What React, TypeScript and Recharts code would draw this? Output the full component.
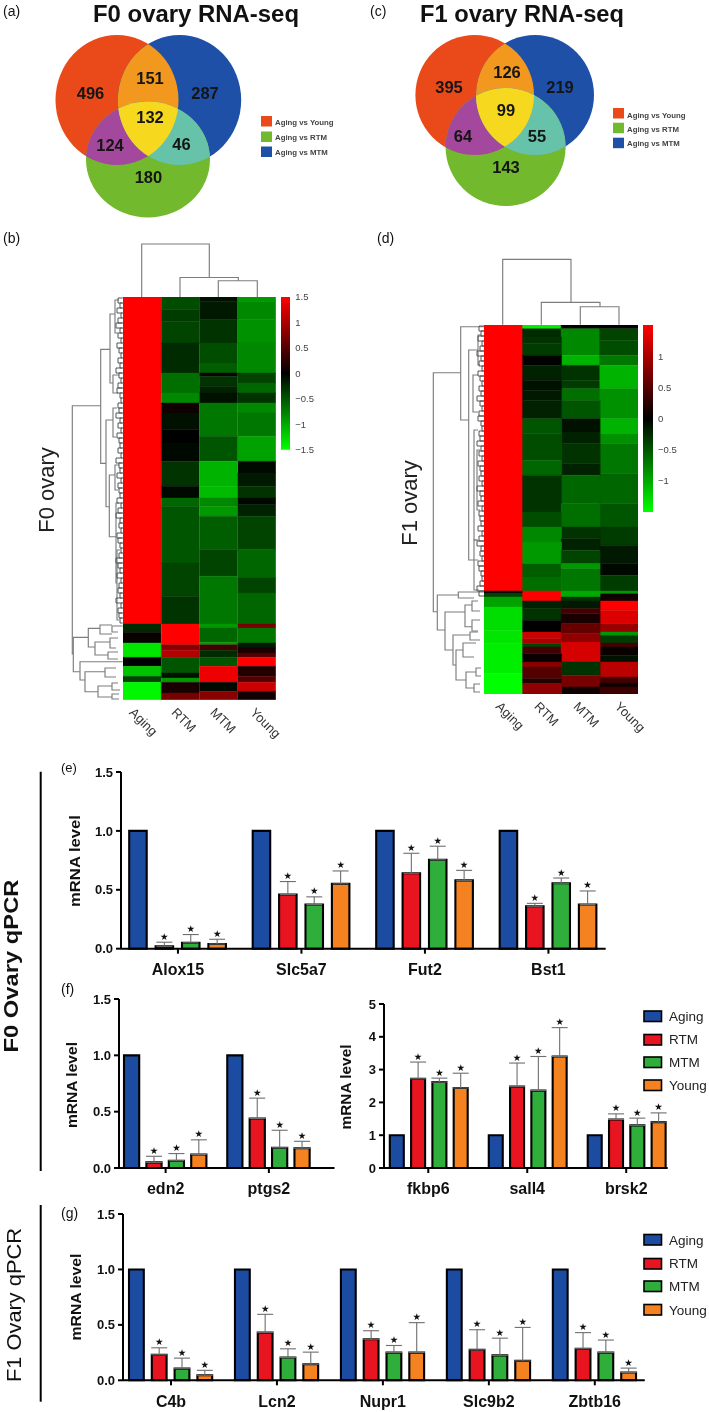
import React from 'react';
import { BarChart, Bar, XAxis, YAxis, ErrorBar, LabelList, Cell, ScatterChart, Scatter } from 'recharts';

const FONT = '"Liberation Sans", Arial, sans-serif';
const groupNames = ['Aging', 'RTM', 'MTM', 'Young'];
const groupColors = ['#1C4CA2', '#E8141F', '#2FAE3C', '#F58220'];

// ---------- Venn ----------
const vennNames = ['Aging vs Young', 'Aging vs RTM', 'Aging vs MTM'];
const vennFills = { red: '#EA4A1A', green: '#73B92E', blue: '#1E50A8', orange: '#F2981E', purple: '#A3489C', teal: '#66C2A8', yellow: '#F6D91F' };
const f0Sets = { red: { x: 117, y: 100, rx: 61.5, ry: 65 }, blue: { x: 179.5, y: 100, rx: 61.7, ry: 65 }, green: { x: 148, y: 159.5, rx: 62, ry: 58 } };
const f1Sets = { red: { x: 474.7, y: 95, rx: 59.3, ry: 60 }, blue: { x: 535, y: 95, rx: 59, ry: 60 }, green: { x: 505.6, y: 147, rx: 60, ry: 59 } };
const f0Counts = [
  { label: '496', x: 90.5, y: 93 }, { label: '151', x: 150, y: 78 }, { label: '287', x: 205, y: 93 },
  { label: '132', x: 150, y: 117 }, { label: '124', x: 110, y: 145 }, { label: '46', x: 181.4, y: 144 }, { label: '180', x: 148.4, y: 177 },
];
const f1Counts = [
  { label: '395', x: 449, y: 87 }, { label: '126', x: 507, y: 72 }, { label: '219', x: 560, y: 87 },
  { label: '99', x: 506, y: 110 }, { label: '64', x: 463, y: 136 }, { label: '55', x: 537, y: 136 }, { label: '143', x: 506, y: 167 },
];

// ---------- Heatmap bands: [row where the band ends, z score] ----------
const f0Aging = [[1183, 1.5], [1208, -0.25], [1240, 0.05], [1283, -1.35], [1310, 0], [1340, -1.15], [1358, -0.4], [1410, -1.45]];
const f0Rtm = [[240, -0.45], [275, -0.35], [340, -0.4], [430, -0.25], [490, -0.65], [520, -0.8], [550, 0.1], [600, -0.1], [640, 0], [695, -0.05], [770, -0.3], [805, -0.05], [830, -0.6], [1000, -0.5], [1100, -0.4], [1183, -0.3], [1245, 1.5], [1262, 0.8], [1283, 1.05], [1330, -0.5], [1345, -0.1], [1358, -0.9], [1390, 0.15], [1410, 0.7]];
const f0Mtm = [[215, -0.1], [270, -0.15], [340, -0.3], [400, -0.45], [430, -0.55], [440, 0.1], [470, -0.3], [490, -0.2], [520, -0.1], [620, -0.7], [695, -0.5], [770, -1.05], [805, -1.1], [830, -0.8], [860, -0.9], [960, -0.55], [1040, -0.4], [1183, -0.7], [1195, -0.9], [1238, -0.6], [1245, -0.9], [1262, 0.4], [1283, -0.25], [1310, -0.5], [1358, 1.4], [1385, -0.05], [1410, 0.8]];
const f0Young = [[215, -0.9], [270, -0.8], [340, -0.85], [430, -0.8], [460, -0.4], [490, -0.6], [520, -0.3], [550, -0.8], [620, -0.7], [695, -0.95], [730, -0.05], [770, -0.15], [805, -0.3], [825, -0.05], [860, -0.2], [960, -0.4], [1045, -0.6], [1090, -0.4], [1183, -0.6], [1195, 0.7], [1240, -0.7], [1255, -0.15], [1270, 0.15], [1283, 0.5], [1310, 1.5], [1340, 0.2], [1358, 0.5], [1385, 1.2], [1410, 0.1]];
const f1Aging = [[1082, 1.5], [1090, 0], [1100, -0.4], [1130, -0.95], [1200, -1.3], [1240, -1.35], [1330, -1.4], [1392, -1.5]];
const f1Rtm = [[295, -1.4], [320, -0.25], [340, -0.3], [375, -0.35], [405, -0.02], [450, -0.2], [480, -0.1], [510, -0.15], [565, -0.2], [610, -0.5], [690, -0.45], [735, -0.6], [845, -0.3], [890, -0.45], [935, -0.8], [1000, -0.9], [1040, -0.55], [1082, -0.65], [1112, 1.5], [1135, -0.2], [1170, -0.3], [1205, 0], [1225, 1.2], [1240, 1], [1250, -0.4], [1270, 0.4], [1295, 0.05], [1310, 0.8], [1345, 0.5], [1360, 0.2], [1392, 0.85]];
const f1Mtm = [[295, 0], [375, -0.8], [405, -1.05], [450, -0.3], [475, -0.35], [510, -0.65], [565, -0.5], [605, -0.1], [640, -0.2], [700, -0.3], [735, -0.2], [820, -0.6], [890, -0.65], [925, -0.3], [960, -0.2], [1000, -0.4], [1015, -0.9], [1082, -0.7], [1100, -1.0], [1112, -0.3], [1135, -0.15], [1150, 0.4], [1180, 0.15], [1210, 0.6], [1235, 0.85], [1295, 1.25], [1335, -0.3], [1370, 0.7], [1392, 0.1]];
const f1Young = [[295, 0], [330, -0.4], [375, -0.45], [405, -0.7], [475, -1.05], [565, -0.85], [610, -1.05], [640, -0.85], [730, -0.7], [820, -0.6], [890, -0.5], [945, -0.35], [1000, -0.15], [1035, -0.05], [1082, -0.35], [1090, -0.9], [1112, 0.1], [1140, 1.5], [1180, 1.3], [1205, 0.9], [1215, -0.9], [1238, -0.35], [1250, 0.4], [1275, 0.05], [1295, -0.1], [1340, 1.1], [1358, 0.4], [1370, 0.1], [1392, 0.35]];
const scaleF0Ticks = [1.5, 1, 0.5, 0, -0.5, -1, -1.5];
const scaleF1Ticks = [1, 0.5, 0, -0.5, -1];

// ---------- Dendrograms: [merge height, branch a, branch b, child a, child b] ----------
const f0TopLinks = [[244, 141.7, 209.3, 297, 277.5], [277.5, 180, 238.3, 297, 280.7], [280.7, 218.3, 257.3, 297, 297]];
const f1TopLinks = [[259.3, 502.7, 571, 324.7, 302.3], [302.3, 541.3, 600, 324.7, 306.7], [306.7, 580.3, 619, 324.7, 324.7]];
const f0LeftLinks = [
  [72.3, 405.7, 654, 100.7, 73.3], [73.3, 637.3, 671.7, 88.3, 80], [100.7, 349.3, 463.3, 110, 106],
  [110, 314, 383, 115, 113], [115, 300, 333, 119, 118], [113, 375, 393, 119, 118],
  [106, 420, 506.7, 113, 109.3], [113, 408, 437, 117, 116], [109.3, 475, 536.7, 115, 116],
  [115, 465, 490, 119, 118], [116, 503, 583, 119, 117], [117, 550, 620, 120, 119],
  [88.3, 628.3, 647, 100, 95], [100, 625, 634, 112, 112], [112, 626, 632, 122.7, 118], [95, 642, 655, 110, 108],
  [110, 638, 648, 118, 116], [108, 652, 659, 118, 118], [80, 661.7, 680, 122.7, 85], [85, 671.7, 691.7, 105, 98],
  [105, 668, 677, 116, 116], [98, 686, 697, 112, 112], [112, 683, 690, 118, 120], [112, 694, 699, 119, 119],
];
const f0CombDepth = [118, 120, 117, 121, 118, 116, 120, 118, 121, 117, 119, 121, 118, 120, 116, 119, 121, 118, 117, 120, 121, 118, 119, 116, 120, 118, 121, 117, 119, 120, 118, 121, 116, 119, 120, 117, 121, 118, 119, 120, 117, 121, 118, 116, 120, 119, 121, 117, 118, 120, 121, 119, 116, 118, 120, 117, 121, 119, 118, 120, 116, 121, 118, 119, 120];
const f1LeftLinks = [
  [433.3, 372.7, 611.7, 460.7, 437.3], [460.7, 326.7, 420, 484, 468.7], [468.7, 350, 560, 478, 478],
  [478, 335, 365, 481, 480], [473, 375, 412, 478, 478], [474, 430, 540, 478, 477], [477, 450, 510, 480, 480],
  [474, 540, 590, 478, 479], [437.3, 595, 630, 458.3, 445], [458.3, 592, 598, 484, 474],
  [445, 612, 650, 465, 453], [465, 605, 626.7, 472, 472], [472, 601, 611, 478, 480], [472, 620, 631, 480, 478],
  [453, 635, 665, 470, 456], [470, 632, 640, 478, 480], [456, 650, 680, 463, 466], [463, 643, 657, 476, 474],
  [466, 672, 688, 476, 474], [476, 668, 676, 481, 481], [474, 684, 692, 480, 480],
];
const f1CombDepth = [479, 481, 478, 482, 480, 477, 481, 479, 482, 478, 480, 482, 479, 481, 477, 480, 482, 479, 478, 481, 482, 479, 480, 477, 481, 479, 482, 478, 480, 481, 479, 482, 477, 480, 481, 478, 482, 479, 480, 481, 478, 482, 479, 477, 481, 480, 482, 478, 479, 481, 482, 480, 477, 479];

// ---------- qPCR bars ----------
const eCats = ['Alox15', 'Slc5a7', 'Fut2', 'Bst1'];
const eAging = [1, 1, 1, 1];
const eRtm = [0.02, 0.46, 0.64, 0.36];
const eMtm = [0.05, 0.375, 0.755, 0.555];
const eYoung = [0.04, 0.55, 0.58, 0.375];
const eRtmTop = [0.055, 0.57, 0.81, 0.385];
const eMtmTop = [0.12, 0.44, 0.87, 0.6];
const eYoungTop = [0.08, 0.66, 0.665, 0.49];

const fCats = ['edn2', 'ptgs2'];
const fAging = [1, 1];
const fRtm = [0.05, 0.44];
const fMtm = [0.065, 0.18];
const fYoung = [0.12, 0.175];
const fRtmTop = [0.104, 0.62];
const fMtmTop = [0.128, 0.335];
const fYoungTop = [0.25, 0.237];

const f2Cats = ['fkbp6', 'sall4', 'brsk2'];
const f2Aging = [1, 1, 1];
const f2Rtm = [2.72, 2.48, 1.48];
const f2Mtm = [2.62, 2.36, 1.3];
const f2Young = [2.44, 3.4, 1.4];
const f2RtmTop = [3.23, 3.2, 1.65];
const f2MtmTop = [2.74, 3.4, 1.52];
const f2YoungTop = [2.89, 4.28, 1.68];

const gCats = ['C4b', 'Lcn2', 'Nupr1', 'Slc9b2', 'Zbtb16'];
const gAging = [1, 1, 1, 1, 1];
const gRtm = [0.23, 0.43, 0.37, 0.275, 0.285];
const gMtm = [0.105, 0.205, 0.25, 0.225, 0.25];
const gYoung = [0.045, 0.145, 0.25, 0.175, 0.07];
const gRtmTop = [0.293, 0.595, 0.447, 0.456, 0.43];
const gMtmTop = [0.2, 0.284, 0.314, 0.38, 0.363];
const gYoungTop = [0.09, 0.254, 0.52, 0.477, 0.11];

const ratioTicks = [0, 0.5, 1, 1.5];
const foldTicks = [0, 1, 2, 3, 4, 5];

// ---------- helpers ----------
function zColor(z: number) {
  const v = Math.round(255 * Math.min(1, Math.abs(z) / 1.5));
  return z >= 0 ? `rgb(${v},0,0)` : `rgb(0,${v},0)`;
}

function T({ x, y, children, size = 12, weight = 400, anchor = 'start', rotate = 0, fill = '#111', len, family = FONT }: any) {
  return (
    <text x={x} y={y} fontSize={size} fontWeight={weight} textAnchor={anchor} fill={fill} fontFamily={family}
      dominantBaseline="central" textLength={len} lengthAdjust={len ? 'spacingAndGlyphs' : undefined}
      transform={rotate ? `rotate(${rotate} ${x} ${y})` : undefined}>{children}</text>
  );
}

const VennEllipse = (props: any) => {
  const { cx, cy, payload } = props;
  return <ellipse cx={cx} cy={cy} rx={payload.rx} ry={payload.ry} fill={payload.fill} />;
};

const VennOverlap = (props: any) => {
  const { cx, cy, payload } = props;
  const { id, rx, ry, fill, clips } = payload;
  let parent: string | undefined;
  const defs = clips.map((c: any, i: number) => {
    const cid = `${id}-${i}`;
    const node = (
      <clipPath id={cid} key={cid} clipPath={parent ? `url(#${parent})` : undefined}>
        <ellipse cx={c.x} cy={c.y} rx={c.rx} ry={c.ry} />
      </clipPath>
    );
    parent = cid;
    return node;
  });
  return (
    <g>
      <defs>{defs}</defs>
      <ellipse cx={cx} cy={cy} rx={rx} ry={ry} fill={fill} clipPath={`url(#${parent})`} />
    </g>
  );
};

const VennCount = (props: any) => (
  <text x={props.cx} y={props.cy} textAnchor="middle" dominantBaseline="central" fontSize={16.5} fontWeight={700} fontFamily={FONT} fill="#151515">
    {props.payload.label}
  </text>
);

function VennScatter({ sets, counts, prefix }: any) {
  const base = [
    { ...sets.red, fill: vennFills.red },
    { ...sets.blue, fill: vennFills.blue },
    { ...sets.green, fill: vennFills.green },
  ];
  const overlaps = [
    { id: `${prefix}o`, ...sets.red, fill: vennFills.orange, clips: [sets.blue] },
    { id: `${prefix}p`, ...sets.red, fill: vennFills.purple, clips: [sets.green] },
    { id: `${prefix}t`, ...sets.blue, fill: vennFills.teal, clips: [sets.green] },
    { id: `${prefix}y`, ...sets.red, fill: vennFills.yellow, clips: [sets.blue, sets.green] },
  ];
  return [
    <Scatter key={`${prefix}a`} data={base} dataKey="y" shape={VennEllipse} isAnimationActive={false} />,
    <Scatter key={`${prefix}b`} data={overlaps} dataKey="y" shape={VennOverlap} isAnimationActive={false} />,
    <Scatter key={`${prefix}c`} data={counts} dataKey="y" shape={VennCount} isAnimationActive={false} />,
  ];
}

function heatData(cols: number[][][], start: number) {
  const rows = groupNames.map((name, ci) => {
    const row: any = { name };
    let prev = start;
    cols[ci].forEach(([end], i) => { row[`s${i}`] = end - prev; prev = end; });
    return row;
  });
  return rows;
}

function Heatmap({ left, top, width, height, cols, start, end }: any) {
  const data = heatData(cols, start);
  const layers = Math.max(...cols.map((c: any) => c.length));
  return (
    <div style={{ position: 'absolute', left, top }}>
      <BarChart width={width} height={height} data={data} margin={{ top: 0, right: 0, bottom: 0, left: 0 }} barCategoryGap={0} stackOffset="none">
        <XAxis dataKey="name" hide />
        <YAxis hide reversed type="number" domain={[0, end - start]} />
        {Array.from({ length: layers }, (_, i) => (
          <Bar key={i} dataKey={`s${i}`} stackId="h" isAnimationActive={false}>
            {groupNames.map((n, ci) => {
              const color = cols[ci][i] ? zColor(cols[ci][i][1]) : 'none';
              return <Cell key={n} fill={color} stroke={color} strokeWidth={0.4} />;
            })}
          </Bar>
        ))}
      </BarChart>
    </div>
  );
}

function ColorScale({ left, top, barW, height, ticks, id }: any) {
  const pad = 8;
  return (
    <div style={{ position: 'absolute', left, top: top - pad }}>
      <BarChart width={barW + 40} height={height + 2 * pad} data={[{ name: 'z', span: [-1.5, 1.5] }]} margin={{ top: pad, right: 0, bottom: pad, left: 0 }} barCategoryGap={0}>
        <defs>
          <linearGradient id={id} x1="0" y1="0" x2="0" y2="1">
            <stop offset="0%" stopColor="#FF0000" />
            <stop offset="50%" stopColor="#000000" />
            <stop offset="100%" stopColor="#00FF00" />
          </linearGradient>
        </defs>
        <XAxis dataKey="name" hide />
        <YAxis orientation="right" width={40} type="number" domain={[-1.5, 1.5]} ticks={ticks} axisLine={false} tickLine={false} tickSize={0} tickMargin={5} interval={0}
          tickFormatter={(v: number) => (v < 0 ? `\u2212${Math.abs(v)}` : `${v}`)}
          tick={{ fontSize: 9.5, fill: '#444', fontFamily: FONT, textAnchor: 'start' }} />
        <Bar dataKey="span" fill={`url(#${id})`} isAnimationActive={false} />
      </BarChart>
    </div>
  );
}

function linkPoints(l: number[], horizontal: boolean) {
  const [h, a, b, ca, cb] = l;
  return horizontal
    ? [{ x: ca, y: a }, { x: h, y: a }, { x: h, y: b }, { x: cb, y: b }]
    : [{ x: a, y: ca }, { x: a, y: h }, { x: b, y: h }, { x: b, y: cb }];
}

function combLinks(depths: number[], startY: number, step: number, leaf: number) {
  return depths.map((d, i) => [d, startY + i * step, startY + (i + 1) * step, leaf, leaf]);
}

const noPoint = () => null;

function Dendrograms() {
  const main: any[] = [
    ...f0TopLinks.map((l) => linkPoints(l, false)),
    ...f1TopLinks.map((l) => linkPoints(l, false)),
    ...f0LeftLinks.map((l) => linkPoints(l, true)),
    ...f1LeftLinks.map((l) => linkPoints(l, true)),
  ];
  const comb: any[] = [
    ...combLinks(f0CombDepth, 298, 5, 122.7).map((l) => linkPoints(l, true)),
    ...combLinks(f1CombDepth, 326, 5, 484).map((l) => linkPoints(l, true)),
  ];
  return (
    <div style={{ position: 'absolute', left: 0, top: 0 }}>
      <ScatterChart width={709} height={770} margin={{ top: 0, right: 0, bottom: 0, left: 0 }}>
        <XAxis type="number" dataKey="x" domain={[0, 709]} hide />
        <YAxis type="number" dataKey="y" domain={[0, 770]} reversed hide />
        {main.map((pts, i) => (
          <Scatter key={i} data={pts} shape={noPoint} line={{ stroke: '#7d7d7d', strokeWidth: 1.15 }} isAnimationActive={false} />
        ))}
        {comb.map((pts, i) => (
          <Scatter key={`c${i}`} data={pts} shape={noPoint} line={{ stroke: '#555', strokeWidth: 1 }} isAnimationActive={false} />
        ))}
      </ScatterChart>
    </div>
  );
}

function starLabel(vals: number[], tops: number[]) {
  return (p: any) => {
    const { x, y, width, height, index } = p;
    const err = tops[index] - vals[index];
    const ppu = height / vals[index];
    return (
      <text x={x + width / 2} y={y - err * ppu - 6} textAnchor="middle" dominantBaseline="central" fontSize={9.5} fontFamily="DejaVu Sans" fill="#111">★</text>
    );
  };
}

function Qpcr({ axisX, yTop, yZero, right, cats, aging, rtm, mtm, young, rtmTop, mtmTop, youngTop, domainMax, ticks, barW, step, padL, padR, tickFmt, labelSize = 16 }: any) {
  const yW = 40;
  const mt = 10;
  const xH = 34;
  const data = cats.map((name: string, i: number) => ({
    name, aging: aging[i], rtm: rtm[i], mtm: mtm[i], young: young[i],
    rtmE: [0, rtmTop[i] - rtm[i]], mtmE: [0, mtmTop[i] - mtm[i]], youngE: [0, youngTop[i] - young[i]],
  }));
  const keys = [
    ['aging', null, null, null],
    ['rtm', 'rtmE', rtm, rtmTop],
    ['mtm', 'mtmE', mtm, mtmTop],
    ['young', 'youngE', young, youngTop],
  ] as any[];
  return (
    <div style={{ position: 'absolute', left: axisX - yW, top: yTop - mt }}>
      <BarChart width={yW + right - axisX + 4} height={mt + yZero - yTop + xH} data={data} barSize={barW} barGap={step - barW}
        margin={{ top: mt, right: 4, bottom: 0, left: 0 }}>
        <XAxis dataKey="name" height={xH} interval={0} padding={{ left: padL, right: padR }}
          axisLine={{ stroke: '#000', strokeWidth: 2 }} tickLine={{ stroke: '#000', strokeWidth: 2 }} tickSize={5} tickMargin={10}
          tick={{ fontSize: labelSize, fontWeight: 700, fill: '#111', fontFamily: FONT }} />
        <YAxis width={yW} type="number" domain={[0, domainMax]} ticks={ticks} interval={0} tickFormatter={tickFmt}
          axisLine={{ stroke: '#000', strokeWidth: 2 }} tickLine={{ stroke: '#000', strokeWidth: 2 }} tickSize={5} tickMargin={3}
          tick={{ fontSize: 13, fontWeight: 700, fill: '#111', fontFamily: FONT }} />
        {keys.map(([k, e, vals, tops], i) => (
          <Bar key={k} dataKey={k} fill={groupColors[i]} stroke="#000" strokeWidth={2.1} isAnimationActive={false}>
            {e ? <ErrorBar dataKey={e} direction="y" width={8} stroke="#6e6e6e" strokeWidth={1.1} isAnimationActive={false} /> : null}
            {e ? <LabelList dataKey={k} content={starLabel(vals, tops)} /> : null}
          </Bar>
        ))}
      </BarChart>
    </div>
  );
}

const fix1 = (v: number) => v.toFixed(1);

function GroupLegend({ x, ys, textYs }: any) {
  return (
    <g>
      {groupNames.map((n, i) => (
        <g key={n}>
          <rect x={x} y={ys[i]} width={17.5} height={10.5} fill={groupColors[i]} stroke="#000" strokeWidth={1.6} />
          <T x={x + 25} y={textYs[i]} size={13.5} fill="#222">{n}</T>
        </g>
      ))}
    </g>
  );
}

function VennLegend({ x, ys, textYs }: any) {
  const fills = [vennFills.red, vennFills.green, vennFills.blue];
  return (
    <g>
      {vennNames.map((n, i) => (
        <g key={n}>
          <rect x={x} y={ys[i]} width={11} height={10.5} fill={fills[i]} />
          <T x={x + 14} y={textYs[i]} size={7.8} weight={700} fill="#444">{n}</T>
        </g>
      ))}
    </g>
  );
}

export default function App() {
  return (
    <div style={{ position: 'absolute', left: 0, top: 0, width: 709, height: 1412, background: '#fff', overflow: 'hidden', fontFamily: FONT, filter: 'blur(0.45px)' }}>
      <div style={{ position: 'absolute', left: 0, top: 0 }}>
        <ScatterChart width={709} height={230} margin={{ top: 0, right: 0, bottom: 0, left: 0 }}>
          <XAxis type="number" dataKey="x" domain={[0, 709]} hide />
          <YAxis type="number" dataKey="y" domain={[0, 230]} reversed hide />
          {VennScatter({ sets: f0Sets, counts: f0Counts, prefix: 'f0' })}
          {VennScatter({ sets: f1Sets, counts: f1Counts, prefix: 'f1' })}
        </ScatterChart>
      </div>

      <Dendrograms />
      <Heatmap left={123} top={297.3} width={153} height={402.7} cols={[f0Aging, f0Rtm, f0Mtm, f0Young]} start={202} end={1410} />
      <Heatmap left={484} top={324.7} width={154.3} height={369.3} cols={[f1Aging, f1Rtm, f1Mtm, f1Young]} start={284} end={1392} />
      <ColorScale left={281} top={297.3} barW={9.3} height={152.7} ticks={scaleF0Ticks} id="gradF0" />
      <ColorScale left={642.7} top={324.7} barW={10} height={187} ticks={scaleF1Ticks} id="gradF1" />

      <Qpcr axisX={121.3} yTop={772.3} yZero={949} right={606} cats={eCats} aging={eAging} rtm={eRtm} mtm={eMtm} young={eYoung}
        rtmTop={eRtmTop} mtmTop={eMtmTop} youngTop={eYoungTop} domainMax={1.5} ticks={ratioTicks} barW={17.5} step={26.4} padL={-4.8} padR={-4.5} tickFmt={fix1} />
      <Qpcr axisX={118.5} yTop={999.3} yZero={1168.3} right={334} cats={fCats} aging={fAging} rtm={fRtm} mtm={fMtm} young={fYoung}
        rtmTop={fRtmTop} mtmTop={fMtmTop} youngTop={fYoungTop} domainMax={1.5} ticks={ratioTicks} barW={15.2} step={22.4} padL={-5} padR={14} tickFmt={fix1} />
      <Qpcr axisX={383.7} yTop={1004.3} yZero={1168.3} right={667.4} cats={f2Cats} aging={f2Aging} rtm={f2Rtm} mtm={f2Mtm} young={f2Young}
        rtmTop={f2RtmTop} mtmTop={f2MtmTop} youngTop={f2YoungTop} domainMax={5} ticks={foldTicks} barW={14} step={21.3} padL={-5.2} padR={-8} tickFmt={(v: number) => `${v}`} />
      <Qpcr axisX={123} yTop={1214} yZero={1380.3} right={644.8} cats={gCats} aging={gAging} rtm={gRtm} mtm={gMtm} young={gYoung}
        rtmTop={gRtmTop} mtmTop={gMtmTop} youngTop={gYoungTop} domainMax={1.5} ticks={ratioTicks} barW={14.8} step={22.8} padL={-5} padR={-3} tickFmt={fix1} />

      <svg width={709} height={1412} style={{ position: 'absolute', left: 0, top: 0, pointerEvents: 'none' }}>
        <T x={3} y={11} size={14}>(a)</T>
        <T x={370} y={11} size={14}>(c)</T>
        <T x={3} y={238} size={14}>(b)</T>
        <T x={377} y={238} size={14} weight={400}>(d)</T>
        <T x={61} y={767} size={13}>(e)</T>
        <T x={61} y={989} size={14}>(f)</T>
        <T x={61} y={1213} size={14}>(g)</T>
        <T x={93} y={14} size={23} weight={700} len={206}>F0 ovary RNA-seq</T>
        <T x={420} y={14} size={23} weight={700} len={204}>F1 ovary RNA-seq</T>
        <VennLegend x={261} ys={[116, 131.5, 146.5]} textYs={[122.7, 137.3, 152.3]} />
        <VennLegend x={613} ys={[108, 122.7, 137.7]} textYs={[115, 129, 143.3]} />

        <T x={46} y={490} size={22} anchor="middle" rotate={-90} fill="#222">F0 ovary</T>
        <T x={409} y={503} size={22} anchor="middle" rotate={-90} fill="#222">F1 ovary</T>
        {groupNames.map((n, i) => <T key={n} x={[131.7, 174, 212.7, 252.7][i]} y={710} size={13} rotate={45} fill="#333">{n}</T>)}
        {groupNames.map((n, i) => <T key={n} x={[498.3, 536.7, 576, 617.3][i]} y={704} size={13} rotate={45} fill="#333">{n}</T>)}

        <line x1={40.7} y1={771.7} x2={40.7} y2={1171} stroke="#000" strokeWidth={2} />
        <line x1={40.7} y1={1205} x2={40.7} y2={1401.7} stroke="#000" strokeWidth={2} />
        <T x={10} y={966} size={21} weight={700} anchor="middle" rotate={-90} len={173}>F0 Ovary qPCR</T>
        <T x={13} y={1305} size={21} anchor="middle" rotate={-90} len={154}>F1 Ovary qPCR</T>
        <T x={74} y={861} size={15.5} weight={700} anchor="middle" rotate={-90} len={92}>mRNA level</T>
        <T x={71} y={1085} size={15.5} weight={700} anchor="middle" rotate={-90} len={86}>mRNA level</T>
        <T x={345} y={1087} size={15.5} weight={700} anchor="middle" rotate={-90} len={85}>mRNA level</T>
        <T x={75} y={1297} size={15.5} weight={700} anchor="middle" rotate={-90} len={87}>mRNA level</T>
        <GroupLegend x={644} ys={[1011, 1034.5, 1057, 1080]} textYs={[1016.7, 1039.7, 1062.3, 1085.7]} />
        <GroupLegend x={644} ys={[1234.5, 1258.5, 1281, 1304.5]} textYs={[1240, 1263.7, 1286.7, 1310]} />
      </svg>
    </div>
  );
}
